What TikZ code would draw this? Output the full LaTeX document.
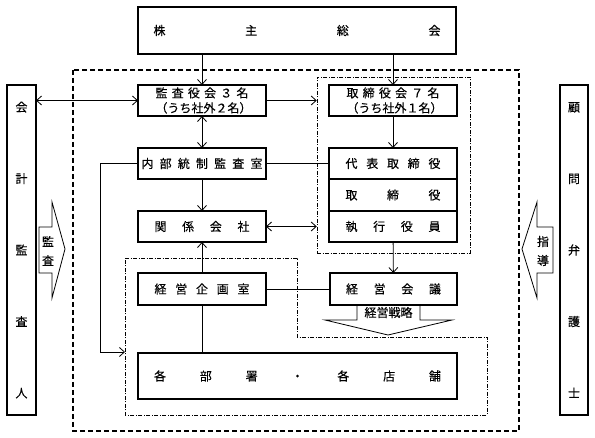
\documentclass[tikz,border=0pt]{standalone}
\usepackage{fontspec}
\setmainfont{Noto Sans CJK JP}[UprightFeatures={FakeBold=0.3}]
\usetikzlibrary{arrows.meta,positioning,calc}

\newcommand{\jspread}[2]{\makebox[#1][s]{#2}}

\begin{document}
\begin{tikzpicture}[x=1pt, y=-1pt,
  box/.style={draw, rectangle, line width=1.1pt, outer sep=0pt, inner sep=0pt,
    minimum width=128pt, minimum height=31pt, font=\fontsize{12}{15}\selectfont},
  vbox/.style={box, minimum width=29pt, minimum height=330pt, align=center,
    font=\fontsize{12}{71.5}\selectfont},
  link/.style={line width=0.8pt},
  callout/.style={line width=0.8pt},
  outer/.style={line width=1.2pt, dash pattern=on 5pt off 3pt},
  group/.style={line width=0.5pt, dash pattern=on 4pt off 1.5pt on 1pt off 1.5pt},
  vtext/.style={align=center, inner sep=0pt, font=\fontsize{12}{19}\selectfont},
  >={Straight Barb[length=5pt,width=9pt]}]
\useasboundingbox (0,0) rectangle (595,438);

% 外枠
\draw[outer] (73,70) rectangle (519,431);
\node[group, draw, minimum width=153pt, minimum height=176pt] (board) at (393.5,165) {};
\draw[group] (125,258) -- (297,258) -- (297,337) -- (487,337) -- (487,415) -- (125,415) -- cycle;
\coordinate (bumonin) at (125,352);

% 節点
\node[box, minimum width=318pt, minimum height=47pt] (soukai) at (297,30.5)
  {\jspread{287pt}{株\hfill 主\hfill 総\hfill 会}};
\node[box, align=center] (kansa) at (202,100.5)
  {\jspread{93pt}{監\hfill 査\hfill 役\hfill 会\hfill ３\hfill 名}\\
   \jspread{93pt}{（\hfill う\hfill ち\hfill 社\hfill 外\hfill ２\hfill 名\hfill ）}};
\node[box] (naibu) at (202,163.5)
  {\jspread{121pt}{内\hfill 部\hfill 統\hfill 制\hfill 監\hfill 査\hfill 室}};
\node[box] (kankei) at (202,226.5)
  {\jspread{95pt}{関\hfill 係\hfill 会\hfill 社}};
\node[box, align=center] (tori) at (393,100.5)
  {\jspread{93pt}{取\hfill 締\hfill 役\hfill 会\hfill ７\hfill 名}\\
   \jspread{93pt}{（\hfill う\hfill ち\hfill 社\hfill 外\hfill １\hfill 名\hfill ）}};
\node[box] (daihyo) at (393,163.5)
  {\jspread{95pt}{代\hfill 表\hfill 取\hfill 締\hfill 役}};
\node[box, minimum height=32pt, below=0pt of daihyo] (yakuin)
  {\jspread{95pt}{取\hfill 締\hfill 役}};
\node[box, below=0pt of yakuin] (shikko)
  {\jspread{95pt}{執\hfill 行\hfill 役\hfill 員}};
\node[box, minimum width=127pt, minimum height=32pt] (kaigi) at (393.5,289)
  {\jspread{95pt}{経\hfill 営\hfill 会\hfill 議}};
\node[box, minimum height=32pt] (kikaku) at (202,289)
  {\jspread{95pt}{経\hfill 営\hfill 企\hfill 画\hfill 室}};
\node[box, minimum width=319pt, minimum height=46pt] (bumon) at (297.5,376)
  {\jspread{287pt}{各\hfill 部\hfill 署\hfill ・\hfill 各\hfill 店\hfill 舗}};
\node[vbox] (kaikei) at (21.5,250) {会\\計\\監\\査\\人};
\node[vbox, minimum width=28pt] (komon) at (574,250) {顧\\問\\弁\\護\\士};

% 吹出し矢印
\draw[callout] (39,227) -- (52,227) -- (52,202) -- (65,249) -- (52,298) -- (52,273) -- (39,273) -- cycle;
\node[vtext] (kansalbl) at (48,251) {監\\査};
\draw[callout] (553,227) -- (537,227) -- (537,202) -- (522,249) -- (537,298) -- (537,273) -- (553,273) -- cycle;
\node[vtext] (shidolbl) at (543,251) {指\\導};
\draw[callout] (357,305) -- (357,320) -- (325,320) -- (388,335) -- (452,320) -- (420,320) -- (420,305);
\node[inner sep=0pt, font=\fontsize{12}{14}\selectfont] (senryaku) at (388.5,312.5) {経営戦略};

% 接続線
\draw[link,->] (soukai.south -| kansa) -- (kansa.north);
\draw[link,->] (soukai.south -| tori) -- (tori.north);
\draw[link,<->] (kaikei.east |- kansa) -- (kansa.west);
\draw[link,->] (kansa.east) -- (kansa.east -| board.west);
\draw[link,<->] (kansa) -- (naibu);
\draw[link] (naibu) -- (daihyo);
\draw[link,->] (naibu) -- (kankei);
\draw[link,->] (naibu.west) -- ++(-38,0) |- (bumonin);
\draw[link,<->] (kankei.east) -- (kankei.east -| board.west);
\draw[link,->] (tori) -- (daihyo);
\draw[link,->] (shikko) -- (kaigi);
\draw[link,->] (kikaku) -- (kankei);
\draw[link] (kikaku) -- (kaigi);
\draw[link] (kikaku) -- (kikaku |- bumon.north);
\end{tikzpicture}
\end{document}
